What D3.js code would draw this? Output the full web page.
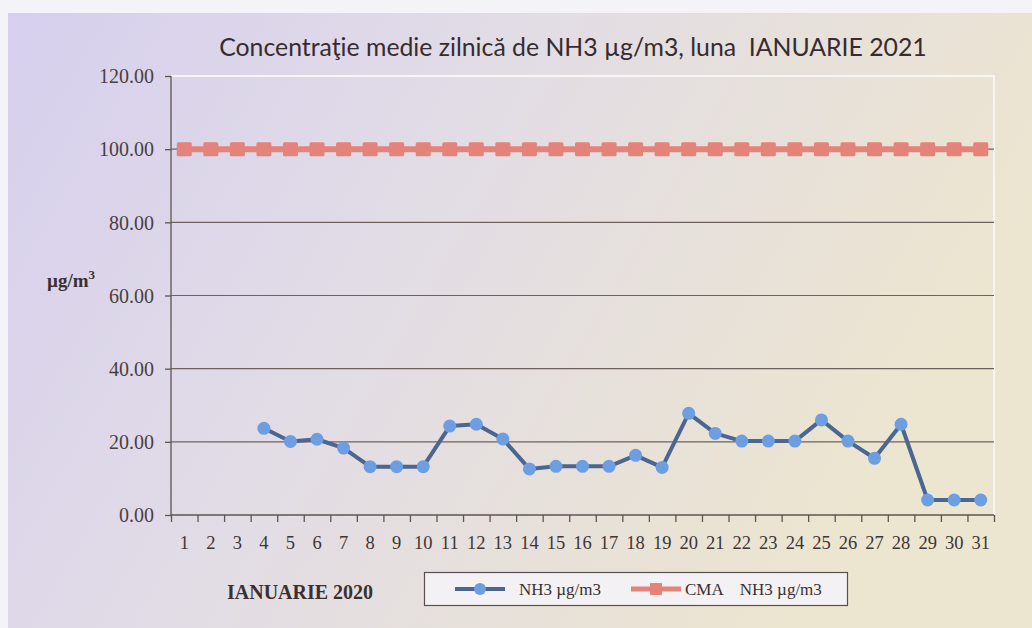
<!DOCTYPE html>
<html>
<head>
<meta charset="utf-8">
<script src="https://cdn.jsdelivr.net/npm/d3@7"></script>
<style>
  body { margin: 0; background: #f4f3f7; }
  svg { display: block; }
</style>
</head>
<body>
<script>
// day numbers on the x axis
var days = d3.range(1, 32);
// daily NH3 concentration (no readings for days 1-3)
var nh3 = [null, null, null, 23.7, 20.1, 20.7, 18.3, 13.2, 13.2, 13.2,
           24.3, 24.8, 20.8, 12.6, 13.3, 13.3, 13.3, 16.3, 13.0, 27.8,
           22.3, 20.2, 20.2, 20.2, 26.0, 20.2, 15.5, 24.8, 4.1, 4.1, 4.1];
// limit value (CMA)
var cma = days.map(function() { return 100; });
var yTicks = [0, 20, 40, 60, 80, 100, 120];

var W = 1032, H = 628;
var svg = d3.select('body').append('svg')
  .attr('width', W).attr('height', H);

var defs = svg.append('defs');
var grad = defs.append('linearGradient')
  .attr('id', 'bg')
  .attr('x1', 0).attr('y1', 0).attr('x2', 1).attr('y2', 0.35);
grad.append('stop').attr('offset', '0%').attr('stop-color', '#d6cfee');
grad.append('stop').attr('offset', '45%').attr('stop-color', '#e2dce6');
grad.append('stop').attr('offset', '100%').attr('stop-color', '#ece5cf');

svg.append('rect')
  .attr('x', 8).attr('y', 13)
  .attr('width', W - 8).attr('height', H - 13)
  .attr('fill', 'url(#bg)');

var pLeft = 171, pRight = 994, pTop = 76, pBottom = 515;

var x = d3.scaleBand().domain(days).range([pLeft, pRight]).padding(0);
var xEdge = d3.scaleLinear().domain([0, days.length]).range([pLeft, pRight]);
var y = d3.scaleLinear().domain([0, 120]).range([pBottom, pTop]);
var cx = function(d) { return x(d) + x.bandwidth() / 2; };

// plot border (white, top and right)
svg.append('path')
  .attr('d', 'M' + pLeft + ',' + pTop + 'H' + pRight + 'V' + pBottom)
  .attr('fill', 'none')
  .attr('stroke', '#f7f6f4')
  .attr('stroke-width', 2);

// gridlines
svg.append('g').selectAll('line')
  .data(yTicks.filter(function(t) { return t > 0 && t < 120; }))
  .enter().append('line')
  .attr('x1', pLeft).attr('x2', pRight)
  .attr('y1', function(d) { return y(d); })
  .attr('y2', function(d) { return y(d); })
  .attr('stroke', '#6e625e')
  .attr('stroke-width', 1.2);

// y axis
var yAxis = svg.append('g')
  .attr('transform', 'translate(' + pLeft + ',0)')
  .call(d3.axisLeft(y).tickValues(yTicks).tickSize(6).tickPadding(11)
    .tickFormat(d3.format('.2f')));
yAxis.selectAll('path, line').attr('stroke', '#5e5452').attr('stroke-width', 1.3);
yAxis.select('.domain').attr('d', 'M0,' + pTop + 'V' + pBottom);
yAxis.selectAll('text')
  .attr('font-family', 'Liberation Serif')
  .attr('font-size', 20)
  .attr('fill', '#4a3f3f')
  .attr('dy', '0.34em');

// x axis: ticks on category edges, labels in the middle
var xTicks = svg.append('g')
  .attr('transform', 'translate(0,' + pBottom + ')')
  .call(d3.axisBottom(xEdge).tickValues(d3.range(days.length + 1))
    .tickSize(7).tickFormat(''));
xTicks.selectAll('path, line').attr('stroke', '#5e5452').attr('stroke-width', 1.3);
xTicks.select('.domain').attr('d', 'M' + pLeft + ',0H' + pRight);

var xLabels = svg.append('g')
  .attr('transform', 'translate(0,' + pBottom + ')')
  .call(d3.axisBottom(x).tickSize(0).tickPadding(21));
xLabels.select('.domain').remove();
xLabels.selectAll('text')
  .attr('font-family', 'Liberation Serif')
  .attr('font-size', 18.5)
  .attr('fill', '#3e3535');

// CMA line
var rows = days.map(function(d, i) { return { day: d, v: nh3[i], c: cma[i] }; });

svg.append('path')
  .datum(rows)
  .attr('fill', 'none')
  .attr('stroke', '#e3837a')
  .attr('stroke-width', 6)
  .attr('d', d3.line().x(function(d) { return cx(d.day); })
    .y(function(d) { return y(d.c); }));

svg.append('g').selectAll('rect')
  .data(rows)
  .enter().append('rect')
  .attr('x', function(d) { return cx(d.day) - 7.5; })
  .attr('y', function(d) { return y(d.c) - 7; })
  .attr('width', 15).attr('height', 14)
  .attr('rx', 1.5)
  .attr('fill', '#e3837a');

// NH3 line
var valid = rows.filter(function(d) { return d.v !== null; });
svg.append('path')
  .datum(valid)
  .attr('fill', 'none')
  .attr('stroke', '#4b6690')
  .attr('stroke-width', 4)
  .attr('stroke-linejoin', 'round')
  .attr('d', d3.line().x(function(d) { return cx(d.day); })
    .y(function(d) { return y(d.v); }));

svg.append('g').selectAll('circle')
  .data(valid)
  .enter().append('circle')
  .attr('cx', function(d) { return cx(d.day); })
  .attr('cy', function(d) { return y(d.v); })
  .attr('r', 6.5)
  .attr('fill', '#6d9ee2');

// title
svg.append('text')
  .attr('x', 573).attr('y', 56)
  .attr('text-anchor', 'middle')
  .attr('font-family', 'Lato')
  .attr('font-size', 24.8)
  .attr('fill', '#362c30')
  .style('white-space', 'pre')
  .text('Concentraţie medie zilnică de NH3 µg/m3, luna  IANUARIE 2021');

// y axis unit
var unit = svg.append('text')
  .attr('x', 47).attr('y', 287)
  .attr('font-family', 'Liberation Serif')
  .attr('font-weight', 'bold')
  .attr('font-size', 19)
  .attr('fill', '#3b3030');
unit.append('tspan').text('µg/m');
unit.append('tspan').attr('dy', -8).attr('font-size', 13).text('3');

// x axis caption
svg.append('text')
  .attr('x', 227).attr('y', 599)
  .attr('font-family', 'Liberation Serif')
  .attr('font-weight', 'bold')
  .attr('font-size', 20)
  .attr('fill', '#3b3030')
  .text('IANUARIE 2020');

// legend
var lg = svg.append('g');
lg.append('rect')
  .attr('x', 424.5).attr('y', 572.5)
  .attr('width', 423).attr('height', 33)
  .attr('fill', '#f3f1f4')
  .attr('stroke', '#5a5050')
  .attr('stroke-width', 1.2);

lg.append('line')
  .attr('x1', 455).attr('x2', 505).attr('y1', 589).attr('y2', 589)
  .attr('stroke', '#4b6690').attr('stroke-width', 4);
lg.append('circle')
  .attr('cx', 480).attr('cy', 589).attr('r', 6)
  .attr('fill', '#6d9ee2');
lg.append('text')
  .attr('x', 519).attr('y', 595)
  .attr('font-family', 'Liberation Serif')
  .attr('font-size', 17)
  .attr('fill', '#3b3030')
  .text('NH3 µg/m3');

lg.append('line')
  .attr('x1', 631).attr('x2', 681).attr('y1', 589).attr('y2', 589)
  .attr('stroke', '#e3837a').attr('stroke-width', 5);
lg.append('rect')
  .attr('x', 650).attr('y', 583)
  .attr('width', 12).attr('height', 12)
  .attr('fill', '#e3837a');
lg.append('text')
  .attr('x', 685).attr('y', 595)
  .attr('font-family', 'Liberation Serif')
  .attr('font-size', 17)
  .attr('fill', '#3b3030')
  .style('white-space', 'pre')
  .text('CMA    NH3 µg/m3');
</script>
</body>
</html>
